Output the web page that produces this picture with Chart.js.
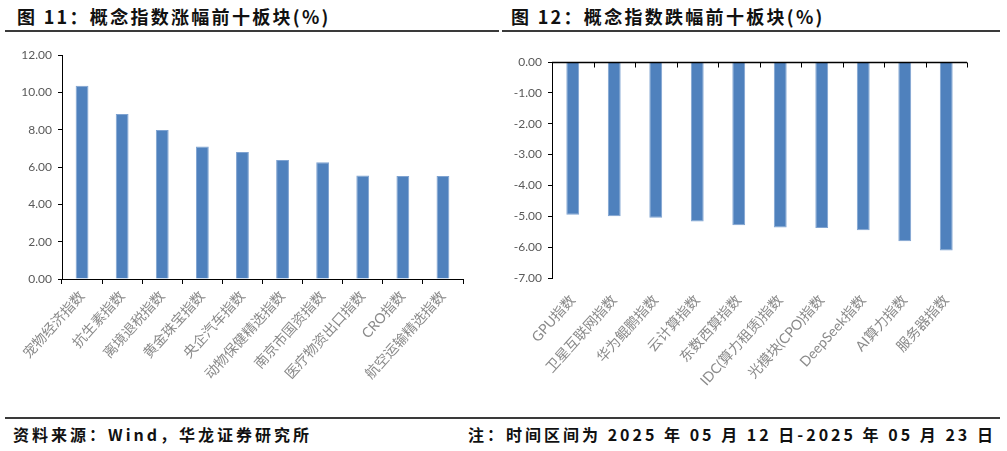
<!DOCTYPE html>
<html><head><meta charset="utf-8">
<script src="https://cdn.jsdelivr.net/npm/chart.js@4.4.1/dist/chart.umd.min.js"></script>
<style>
html,body{margin:0;padding:0;background:#fff;}
body{width:1007px;height:451px;position:relative;overflow:hidden;font-family:"Noto Sans CJK SC",sans-serif;}
.title{position:absolute;top:3px;font-size:18px;font-weight:bold;color:#111;letter-spacing:2.3px;white-space:nowrap;}
.hline{position:absolute;height:2px;background:#3a3a3a;}
.foot{position:absolute;top:424px;font-size:16px;line-height:20px;font-weight:bold;color:#111;white-space:nowrap;letter-spacing:3px;}
canvas{position:absolute;}
</style></head>
<body>
<div class="title" style="left:17px;">图 11：概念指数涨幅前十板块(%)</div>
<div class="title" style="left:511px;">图 12：概念指数跌幅前十板块(%)</div>
<div class="hline" style="left:5px;width:494px;top:30px;"></div>
<div class="hline" style="left:502px;width:498px;top:30px;"></div>
<canvas id="c1" width="500" height="370" style="left:0;top:40px;"></canvas>
<canvas id="c2" width="507" height="370" style="left:500px;top:40px;"></canvas>
<div class="hline" style="left:5px;width:995px;top:417px;"></div>
<div class="foot" style="left:13px;">资料来源：Wind，华龙证券研究所</div>
<div class="foot" style="left:468px;">注：时间区间为 2025 年 05 月 12 日-2025 年 05 月 23 日</div>
<script>
const upCategories = ['宠物经济指数','抗生素指数','离境退税指数','黄金珠宝指数','央企汽车指数','动物保健精选指数','南京市国资指数','医疗物资出口指数','CRO指数','航空运输精选指数'];
const upValues = [10.35, 8.84, 7.98, 7.10, 6.80, 6.37, 6.25, 5.55, 5.52, 5.52];
const downCategories = ['GPU指数','卫星互联网指数','华为鲲鹏指数','云计算指数','东数西算指数','IDC(算力租赁)指数','光模块(CPO)指数','DeepSeek指数','AI算力指数','服务器指数'];
const downValues = [-4.95, -5.00, -5.05, -5.17, -5.29, -5.36, -5.38, -5.45, -5.81, -6.11];
const upTicks = [0, 2, 4, 6, 8, 10, 12];
const downTicks = [-7, -6, -5, -4, -3, -2, -1, 0];

const BAR = '#4F81BD';
const numFont = {family: 'Lato, "Liberation Sans", sans-serif', size: 12};
const catFont = {family: 'Lato, "Noto Sans CJK SC", sans-serif', size: 14};

function yAxis(ticks, width) {
  return {
    min: ticks[0], max: ticks[ticks.length - 1],
    afterBuildTicks: s => { s.ticks = ticks.map(v => ({value: v})); },
    afterFit: s => { s.width = width; },
    border: {display: true, color: '#000', width: 1},
    grid: {display: true, drawOnChartArea: false, drawTicks: true, tickLength: 4, color: '#000'},
    ticks: {color: '#595959', font: numFont, padding: 6, callback: v => Number(v).toFixed(2)}
  };
}

function xAxis(height, withAxisLine) {
  return {
    offset: true,
    afterFit: s => { s.height = height; },
    border: {display: withAxisLine, color: '#000', width: 1},
    grid: {display: withAxisLine, offset: true, drawOnChartArea: false, drawTicks: withAxisLine, tickLength: 5, color: '#000'},
    ticks: {color: '#8a8a8a', font: catFont, autoSkip: false, minRotation: 48, maxRotation: 48, padding: withAxisLine ? 4 : 14}
  };
}

const zeroAxisPlugin = {
  id: 'zeroAxis',
  afterDatasetsDraw(chart) {
    const x = chart.scales.x, y = chart.scales.y, ctx = chart.ctx;
    const y0 = Math.round(y.getPixelForValue(0)) + 0.5;
    const n = chart.data.labels.length;
    const half = (x.getPixelForValue(1) - x.getPixelForValue(0)) / 2;
    ctx.save();
    ctx.strokeStyle = '#000';
    ctx.lineWidth = 1.5;
    ctx.beginPath();
    ctx.moveTo(chart.chartArea.left, y0);
    ctx.lineTo(chart.chartArea.right, y0);
    ctx.stroke();
    ctx.lineWidth = 1;
    for (let i = 0; i <= n; i++) {
      const px = Math.round(x.getPixelForValue(i) - half) + 0.5;
      ctx.beginPath();
      ctx.moveTo(px, y0);
      ctx.lineTo(px, y0 + 5);
      ctx.stroke();
    }
    ctx.restore();
  }
};

new Chart(document.getElementById('c1'), {
  type: 'bar',
  data: {labels: upCategories, datasets: [{data: upValues, backgroundColor: BAR, borderColor: '#7FA3D1', borderWidth: {top: 1, left: 1, right: 1, bottom: 0}, barPercentage: 0.32, categoryPercentage: 1}]},
  options: {
    responsive: false, animation: false, devicePixelRatio: 1,
    layout: {padding: {top: 15, right: 37, left: 0, bottom: 0}},
    plugins: {legend: {display: false}, tooltip: {enabled: false}},
    scales: {x: xAxis(131, true), y: yAxis(upTicks, 62)}
  }
});

new Chart(document.getElementById('c2'), {
  type: 'bar',
  data: {labels: downCategories, datasets: [{data: downValues, backgroundColor: BAR, borderColor: '#7FA3D1', borderWidth: {top: 0, left: 1, right: 1, bottom: 1}, barPercentage: 0.31, categoryPercentage: 1}]},
  options: {
    responsive: false, animation: false, devicePixelRatio: 1,
    layout: {padding: {top: 22, right: 40, left: 0, bottom: 0}},
    plugins: {legend: {display: false}, tooltip: {enabled: false}},
    scales: {x: xAxis(132, false), y: yAxis(downTicks, 52)}
  },
  plugins: [zeroAxisPlugin]
});
</script>
</body></html>
